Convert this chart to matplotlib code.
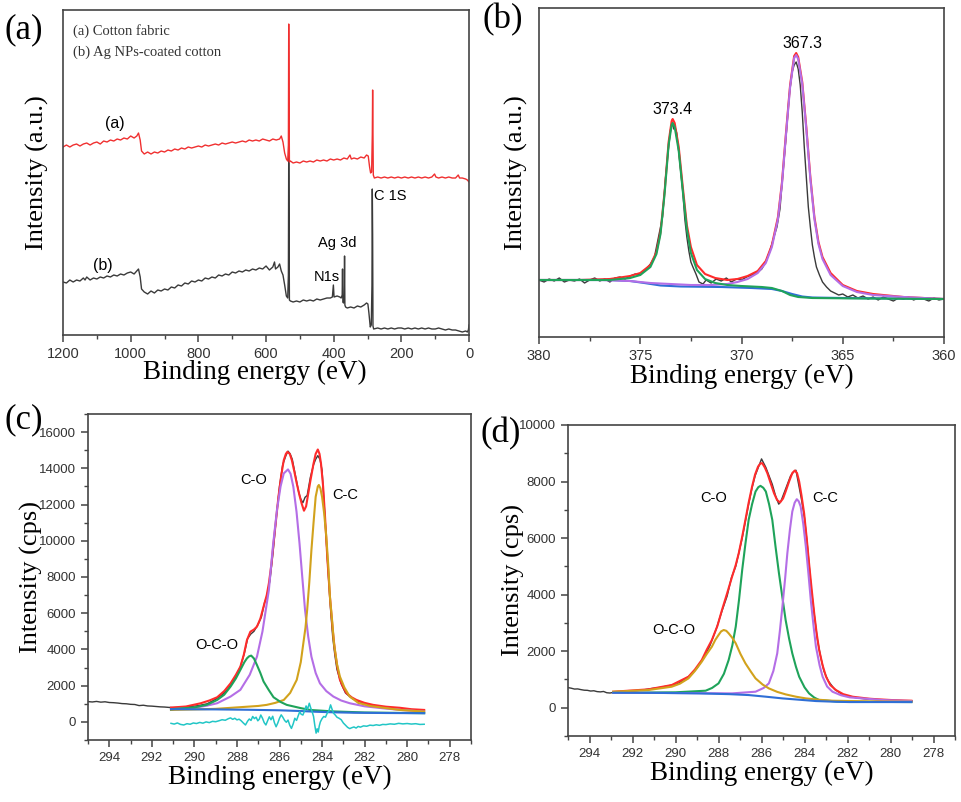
import numpy as np
import matplotlib
matplotlib.use("Agg")
import matplotlib.pyplot as plt
from matplotlib.ticker import MultipleLocator

plt.rcParams['font.family'] = ['Liberation Sans', 'DejaVu Sans']
SERIF = ['Liberation Serif', 'DejaVu Serif']

# ---------------- (a) survey spectra (a.u.) ----------------
survey_cotton = [
    (1200, 188), (1190, 190), (1180, 188), (1170, 190), (1160, 191), (1150, 189), (1140, 191), (1130, 192),
    (1120, 190), (1110, 192), (1100, 193), (1090, 191), (1080, 194), (1070, 193), (1060, 195), (1050, 194),
    (1040, 196), (1030, 195), (1020, 197), (1010, 196), (1000, 199), (990, 197), (982, 199), (977, 202),
    (972, 195), (968, 184), (960, 181), (950, 183), (940, 181), (930, 183), (920, 182), (910, 184), (900, 183),
    (890, 185), (880, 184), (870, 186), (860, 185), (850, 187), (840, 186), (830, 188), (820, 187), (810, 188),
    (800, 189), (790, 188), (780, 190), (770, 189), (760, 190), (750, 191), (740, 190), (730, 192), (720, 191),
    (710, 192), (700, 193), (690, 192), (680, 193), (670, 194), (660, 193), (650, 195), (640, 194), (630, 195),
    (620, 194), (610, 196), (600, 195), (590, 194), (580, 196), (570, 195), (560, 196), (555, 199), (550, 193),
    (545, 182), (540, 176), (536, 174), (534, 190), (533, 311), (532, 240), (531, 173), (528, 174), (520, 172),
    (510, 173), (500, 172), (490, 174), (480, 173), (470, 174), (460, 173), (450, 175), (440, 174), (430, 175),
    (420, 174), (410, 176), (400, 175), (390, 176), (380, 175), (370, 177), (360, 176), (352, 180), (348, 176),
    (340, 177), (330, 176), (320, 178), (310, 177), (303, 180), (298, 179), (294, 168), (291, 162), (288, 163),
    (286, 200), (285, 245), (284, 200), (283, 160), (280, 157), (270, 158), (260, 157), (250, 158), (240, 157),
    (230, 158), (220, 157), (210, 158), (200, 157), (190, 158), (180, 157), (170, 158), (160, 157), (150, 158),
    (140, 157), (130, 158), (120, 157), (110, 158), (102, 161), (98, 158), (90, 157), (80, 158), (70, 157),
    (60, 158), (50, 157), (40, 157), (32, 160), (28, 157), (20, 157), (10, 156), (5, 155), (0, 153),
]
survey_ag = [
    (1200, 53), (1190, 52), (1180, 55), (1170, 53), (1160, 55), (1150, 54), (1140, 57), (1135, 55), (1130, 58),
    (1120, 55), (1110, 57), (1100, 56), (1090, 58), (1080, 57), (1070, 59), (1060, 58), (1050, 60), (1040, 59),
    (1030, 61), (1020, 60), (1010, 62), (1000, 63), (990, 61), (982, 64), (977, 66), (972, 58), (968, 46),
    (960, 43), (950, 41), (940, 44), (930, 42), (920, 45), (910, 44), (900, 46), (890, 45), (880, 48), (870, 47),
    (860, 50), (850, 49), (840, 52), (830, 51), (820, 54), (810, 53), (800, 55), (790, 54), (780, 57), (770, 56),
    (760, 58), (750, 57), (740, 60), (730, 59), (720, 61), (710, 60), (700, 63), (690, 62), (680, 64), (670, 63),
    (660, 65), (650, 64), (640, 66), (630, 65), (620, 67), (610, 66), (600, 69), (595, 67), (590, 65), (580, 68),
    (575, 73), (572, 66), (565, 68), (560, 71), (555, 64), (550, 60), (545, 50), (540, 39), (536, 37), (534, 60),
    (533, 180), (532, 120), (531, 35), (528, 34), (520, 33), (510, 34), (500, 33), (490, 35), (480, 34), (470, 35),
    (460, 34), (450, 36), (440, 35), (430, 36), (420, 37), (410, 37), (404, 38), (401, 50), (399, 38), (390, 39),
    (382, 38), (378, 37), (375, 40), (374, 66), (373, 33), (371, 32), (369, 40), (368, 79), (367, 30), (365, 28),
    (360, 27), (350, 28), (340, 27), (330, 29), (320, 28), (310, 30), (303, 32), (299, 31), (296, 22), (292, 8),
    (289, 10), (287, 50), (286, 146), (285, 100), (284, 9), (282, 6), (270, 7), (260, 6), (250, 7), (240, 6),
    (230, 7), (220, 6), (210, 7), (200, 7), (190, 6), (180, 7), (170, 6), (160, 7), (150, 6), (140, 7), (130, 6),
    (120, 7), (110, 6), (100, 6), (90, 7), (80, 6), (70, 5), (60, 6), (50, 5), (40, 5), (30, 4), (20, 3),
    (10, 4), (5, 3), (2, 5), (0, 10),
]

# ---------------- (b) Ag 3d ----------------
ag_raw = [
    (380.0, 57), (379.75, 55), (379.5, 58), (379.25, 56), (379.0, 59), (378.75, 55), (378.5, 57), (378.25, 56),
    (378.0, 58), (377.75, 54), (377.5, 57), (377.25, 59), (377.0, 56), (376.75, 58), (376.5, 55), (376.25, 59),
    (376.0, 60), (375.75, 58), (375.5, 61), (375.25, 63), (375.0, 62), (374.75, 67), (374.5, 73), (374.3, 80),
    (374.1, 100), (373.9, 120), (373.75, 160), (373.6, 190), (373.5, 208), (373.4, 214), (373.35, 208),
    (373.3, 211), (373.2, 204), (373.1, 185), (373.0, 165), (372.9, 145), (372.8, 118), (372.7, 100),
    (372.6, 86), (372.5, 75), (372.4, 70), (372.25, 63), (372.1, 55), (371.9, 53), (371.75, 57), (371.5, 54),
    (371.25, 58), (371.0, 56), (370.75, 59), (370.5, 55), (370.25, 58), (370.0, 57), (369.75, 60), (369.5, 62),
    (369.25, 64), (369.0, 68), (368.8, 75), (368.6, 86), (368.4, 100), (368.25, 110), (368.1, 128),
    (367.95, 165), (367.8, 200), (367.65, 240), (367.5, 265), (367.4, 272), (367.3, 275), (367.2, 268),
    (367.1, 252), (367.0, 225), (366.9, 190), (366.8, 160), (366.7, 130), (366.6, 110), (366.5, 92),
    (366.4, 80), (366.3, 70), (366.15, 62), (366.0, 55), (365.8, 50), (365.6, 46), (365.4, 44), (365.2, 42),
    (365.0, 43), (364.75, 40), (364.5, 42), (364.25, 39), (364.0, 41), (363.75, 38), (363.5, 40), (363.25, 37),
    (363.0, 40), (362.75, 38), (362.5, 36), (362.25, 39), (362.0, 38), (361.75, 40), (361.5, 37), (361.25, 39),
    (361.0, 38), (360.75, 36), (360.5, 39), (360.25, 37), (360.0, 38),
]
ag_fit = [
    (380.0, 57), (378.0, 57), (376.5, 58), (375.5, 61), (375.0, 64), (374.5, 72), (374.2, 85), (374.0, 105),
    (373.8, 145), (373.6, 195), (373.45, 216), (373.4, 218), (373.3, 214), (373.1, 190), (372.9, 150),
    (372.7, 112), (372.5, 90), (372.2, 72), (371.8, 63), (371.3, 59), (370.7, 57), (370.2, 58), (369.7, 61),
    (369.2, 66), (368.8, 76), (368.5, 92), (368.2, 120), (368.0, 155), (367.8, 205), (367.6, 252),
    (367.4, 281), (367.3, 284), (367.2, 280), (367.0, 255), (366.8, 210), (366.6, 160), (366.4, 120),
    (366.2, 95), (366.0, 80), (365.6, 64), (365.0, 52), (364.3, 46), (363.5, 43), (362.0, 40), (360.0, 38),
]
ag_3d32 = [
    (380.0, 57), (378.0, 57), (376.5, 57), (375.5, 59), (375.0, 62), (374.5, 70), (374.2, 83), (374.0, 103),
    (373.8, 143), (373.6, 192), (373.45, 212), (373.4, 214), (373.3, 210), (373.1, 186), (372.9, 146),
    (372.7, 108), (372.5, 84), (372.2, 67), (371.8, 58), (371.3, 54), (370.7, 52), (370.0, 51), (369.0, 50),
    (368.5, 49), (368.0, 46), (367.6, 42), (367.2, 40), (366.5, 39), (364.0, 38.5), (360.0, 38),
]
ag_3d52 = [
    (380.0, 57), (377.0, 57), (375.5, 56), (374.5, 54), (373.5, 53), (372.5, 52), (371.5, 52), (370.7, 53),
    (370.2, 55), (369.7, 58), (369.2, 64), (368.8, 74), (368.5, 90), (368.2, 118), (368.0, 153), (367.8, 203),
    (367.6, 250), (367.4, 279), (367.3, 282), (367.2, 278), (367.0, 253), (366.8, 208), (366.6, 158),
    (366.4, 118), (366.2, 93), (366.0, 78), (365.6, 62), (365.0, 51), (364.3, 45), (363.5, 42), (362.0, 40),
    (360.0, 38),
]
ag_bg = [
    (380.0, 57), (376.5, 57), (375.5, 56), (374.8, 54), (374.0, 51.5), (373.0, 50.5), (371.0, 50), (369.5, 49),
    (368.5, 48), (368.0, 46), (367.5, 43), (367.0, 40.5), (366.5, 39.5), (365.0, 39), (360.0, 38),
]

# ---------------- (c) C 1s, cotton (cps) ----------------
c_raw = [
    (295.0, 1120), (294.8, 1100), (294.6, 1130), (294.4, 1090), (294.2, 1110), (294.0, 1070), (293.8, 1060),
    (293.6, 1040), (293.4, 1010), (293.2, 1000), (293.0, 970), (292.8, 960), (292.6, 900), (292.4, 920),
    (292.2, 880), (292.0, 870), (291.8, 850), (291.6, 830), (291.4, 820), (291.2, 800), (291.0, 790),
    (290.6, 800), (290.2, 840), (289.8, 900), (289.4, 1000), (289.0, 1250), (288.7, 1500), (288.4, 1850),
    (288.1, 2400), (287.85, 3000), (287.65, 3800), (287.5, 4600), (287.35, 4850), (287.2, 5000), (287.0, 5400),
    (286.85, 5800), (286.7, 6600), (286.6, 6900), (286.45, 7800), (286.3, 9400), (286.15, 11300),
    (286.0, 13000), (285.85, 14200), (285.7, 14700), (285.6, 14950), (285.5, 14800), (285.4, 14500),
    (285.25, 13600), (285.1, 12700), (285.0, 12300), (284.9, 12100), (284.8, 12400), (284.7, 12500),
    (284.55, 13500), (284.4, 14200), (284.3, 14500), (284.2, 14700), (284.1, 14500), (284.0, 13900),
    (283.9, 12000), (283.8, 10000), (283.7, 8000), (283.6, 6200), (283.5, 4700), (283.4, 3700), (283.3, 2900),
    (283.1, 2100), (282.9, 1600), (282.6, 1300), (282.2, 1100), (281.8, 950), (281.2, 800), (280.5, 700),
    (279.8, 640), (279.2, 600),
]
c_fit = [
    (291.1, 790), (290.4, 850), (289.7, 1030), (289.3, 1180), (288.93, 1360), (288.6, 1700), (288.3, 2130),
    (288.05, 2600), (287.84, 3050), (287.68, 3700), (287.53, 4520), (287.37, 4980), (287.2, 5100),
    (287.06, 5260), (286.9, 5700), (286.75, 6360), (286.6, 7000), (286.5, 7650), (286.38, 8700),
    (286.28, 9860), (286.15, 11300), (286.05, 12430), (285.92, 13600), (285.8, 14450), (285.7, 14800),
    (285.63, 14910), (285.52, 14800), (285.42, 14450), (285.3, 13800), (285.19, 13170), (285.06, 12500),
    (284.96, 12060), (284.85, 11660), (284.75, 11900), (284.65, 12600), (284.55, 13300), (284.4, 14270),
    (284.3, 14800), (284.2, 15040), (284.12, 14800), (284.05, 14270), (283.95, 13000), (283.86, 11330),
    (283.75, 9000), (283.63, 6910), (283.5, 5100), (283.4, 3970), (283.28, 3000), (283.16, 2320),
    (283.0, 1900), (282.85, 1580), (282.6, 1350), (282.38, 1210), (282.0, 1050), (281.6, 940), (281.0, 840),
    (280.35, 780), (279.8, 700), (279.2, 660),
]
c_co = [
    (291.1, 700), (290.0, 780), (289.4, 900), (288.93, 1030), (288.3, 1400), (287.84, 1770), (287.4, 2600),
    (287.06, 3600), (286.8, 5000), (286.5, 7280), (286.3, 9800), (286.12, 11700), (285.95, 13000),
    (285.8, 13720), (285.6, 13940), (285.48, 13700), (285.35, 12980), (285.2, 11600), (285.06, 9860),
    (284.93, 8000), (284.8, 6180), (284.65, 4700), (284.5, 3600), (284.3, 2700), (284.1, 2130), (283.8, 1700),
    (283.47, 1400), (283.1, 1180), (282.7, 1030), (282.0, 860), (281.13, 750), (280.2, 650), (279.2, 570),
]
c_cc = [
    (291.1, 660), (289.0, 720), (288.0, 800), (287.0, 880), (286.6, 940), (286.2, 1050), (285.8, 1210),
    (285.5, 1600), (285.19, 2320), (285.0, 3300), (284.88, 4340), (284.78, 5200), (284.7, 6180), (284.6, 7700),
    (284.5, 9490), (284.4, 11000), (284.3, 12430), (284.2, 13000), (284.15, 13080), (284.08, 12900),
    (284.0, 12430), (283.9, 11500), (283.8, 10220), (283.7, 8500), (283.63, 6910), (283.52, 5500),
    (283.44, 4340), (283.3, 3200), (283.16, 2500), (282.95, 1900), (282.7, 1400), (282.3, 1050),
    (281.75, 880), (280.35, 660), (279.2, 570),
]
c_oco = [
    (291.1, 700), (290.0, 800), (289.4, 950), (288.93, 1210), (288.6, 1500), (288.3, 1950), (288.05, 2400),
    (287.84, 2870), (287.65, 3300), (287.53, 3510), (287.43, 3620), (287.33, 3660), (287.2, 3500),
    (287.06, 3140), (286.9, 2700), (286.75, 2230), (286.5, 1750), (286.28, 1360), (285.95, 1100),
    (285.66, 940), (285.0, 760), (284.57, 660), (283.5, 580), (282.0, 520), (279.2, 480),
]
c_bg = [
    (291.1, 700), (289.0, 690), (287.5, 670), (286.0, 640), (285.0, 600), (284.3, 560), (283.5, 530),
    (282.5, 505), (281.0, 490), (279.2, 480),
]
c_resid = [
    (291.1, -80), (290.95, -120), (290.8, -60), (290.65, -140), (290.5, -170), (290.35, -100), (290.2, -130),
    (290.05, -60), (289.9, -90), (289.75, -30), (289.6, -70), (289.45, 0), (289.3, -40), (289.15, 30),
    (289.0, 10), (288.85, 60), (288.7, 120), (288.55, 90), (288.4, 180), (288.3, 220), (288.2, 140),
    (288.1, 200), (288.0, 110), (287.9, 150), (287.8, 60), (287.7, -60), (287.6, -170), (287.5, 40),
    (287.42, 160), (287.34, 80), (287.26, 300), (287.18, 180), (287.1, 260), (287.02, 60), (286.95, 150),
    (286.88, 380), (286.8, 200), (286.72, -40), (286.64, -170), (286.56, 60), (286.48, 280), (286.4, 120),
    (286.32, 310), (286.24, -40), (286.16, -270), (286.08, -60), (286.0, 200), (285.92, 390), (285.84, 250),
    (285.76, 80), (285.68, -20), (285.6, 100), (285.52, -180), (285.44, -360), (285.36, -120), (285.28, 200),
    (285.2, 80), (285.12, 340), (285.05, 560), (284.98, 420), (284.9, 380), (284.82, 620), (284.75, 880),
    (284.68, 700), (284.6, 1030), (284.53, 760), (284.46, 540), (284.4, 300), (284.34, -200), (284.28, -620),
    (284.23, -380), (284.18, -560), (284.13, -220), (284.08, 0), (284.0, 180), (283.92, 300), (283.84, 260),
    (283.76, 480), (283.68, 600), (283.6, 940), (283.53, 700), (283.46, 480), (283.38, 380), (283.3, 260),
    (283.2, 200), (283.1, 120), (283.0, -60), (282.9, -180), (282.8, -300), (282.7, -370), (282.6, -320),
    (282.5, -280), (282.4, -340), (282.3, -250), (282.2, -290), (282.05, -220), (281.9, -240), (281.75, -180),
    (281.6, -200), (281.45, -160), (281.3, -190), (281.15, -140), (281.0, -150), (280.8, -110), (280.6, -130),
    (280.4, -80), (280.2, -110), (280.0, -90), (279.8, -120), (279.6, -100), (279.4, -140), (279.2, -130),
]

# ---------------- (d) C 1s, Ag NPs-coated (cps) ----------------
d_raw = [
    (295.0, 712), (294.85, 690), (294.7, 660), (294.55, 665), (294.4, 640), (294.25, 620), (294.1, 615),
    (293.95, 590), (293.8, 600), (293.65, 570), (293.5, 560), (293.35, 575), (293.2, 530), (293.05, 520),
    (292.9, 540), (292.7, 550), (292.3, 580), (291.9, 600), (291.5, 630), (291.1, 680), (290.7, 720),
    (290.3, 780), (289.9, 850), (289.6, 1000), (289.3, 1150), (289.0, 1400), (288.7, 1750), (288.4, 2200),
    (288.1, 2800), (287.85, 3400), (287.6, 3950), (287.4, 4600), (287.2, 5000), (287.05, 5500), (286.9, 6000),
    (286.75, 6600), (286.6, 7200), (286.45, 7750), (286.3, 8200), (286.15, 8500), (286.0, 8800), (285.9, 8650),
    (285.8, 8500), (285.65, 8200), (285.5, 7900), (285.35, 7500), (285.2, 7200), (285.1, 7300), (284.95, 7600),
    (284.8, 7900), (284.65, 8200), (284.5, 8350), (284.4, 8400), (284.3, 8000), (284.15, 7400), (284.0, 6700),
    (283.85, 5600), (283.7, 4300), (283.55, 3300), (283.4, 2400), (283.25, 1800), (283.1, 1300), (282.9, 950),
    (282.6, 650), (282.2, 450), (281.8, 380), (281.4, 330), (281.0, 300), (280.5, 280), (280.0, 260),
    (279.5, 250), (279.0, 240),
]
d_fit = [
    (292.9, 566), (291.27, 649), (290.18, 802), (289.4, 1097), (289.1, 1350), (288.78, 1687), (288.55, 2050),
    (288.31, 2395), (288.05, 2900), (287.84, 3457), (287.6, 4050), (287.37, 4637), (287.2, 5050),
    (287.06, 5463), (286.9, 6050), (286.75, 6643), (286.6, 7250), (286.44, 7823), (286.3, 8250),
    (286.16, 8531), (286.05, 8640), (285.97, 8650), (285.85, 8500), (285.73, 8295), (285.58, 7950),
    (285.42, 7587), (285.28, 7350), (285.14, 7260), (285.0, 7400), (284.88, 7646), (284.72, 8000),
    (284.57, 8300), (284.45, 8390), (284.35, 8300), (284.25, 8000), (284.14, 7500), (284.02, 6879),
    (283.9, 6000), (283.79, 5109), (283.67, 4200), (283.55, 3339), (283.44, 2650), (283.32, 2041),
    (283.16, 1500), (283.0, 1097), (282.8, 800), (282.54, 625), (282.2, 480), (281.76, 389), (281.0, 320),
    (280.51, 295), (279.8, 265), (279.03, 248),
]
d_co = [
    (292.9, 530), (290.0, 545), (288.6, 602), (288.3, 700), (288.0, 861), (287.75, 1200), (287.53, 1687),
    (287.36, 2200), (287.2, 2867), (287.05, 3800), (286.9, 4873), (286.75, 5800), (286.6, 6643), (286.44, 7200),
    (286.28, 7646), (286.15, 7800), (286.05, 7847), (285.92, 7780), (285.8, 7646), (285.65, 7200),
    (285.5, 6643), (285.35, 5700), (285.19, 4755), (285.03, 3900), (284.88, 3103), (284.72, 2450),
    (284.57, 1923), (284.4, 1450), (284.25, 1097), (284.0, 720), (283.79, 507), (283.55, 360), (283.32, 271),
    (282.5, 220), (281.9, 212), (279.03, 200),
]
d_cc = [
    (292.9, 531), (289.0, 515), (287.37, 507), (286.28, 566), (285.9, 700), (285.66, 861), (285.45, 1300),
    (285.27, 1923), (285.15, 2700), (285.03, 3575), (284.9, 4600), (284.8, 5463), (284.68, 6300),
    (284.57, 6938), (284.46, 7250), (284.36, 7375), (284.27, 7300), (284.18, 7115), (284.06, 6500),
    (283.94, 5700), (283.82, 4750), (283.71, 3811), (283.59, 2950), (283.47, 2159), (283.3, 1500),
    (283.16, 1097), (282.95, 750), (282.7, 566), (282.3, 440), (281.9, 366), (280.35, 271), (279.03, 236),
]
d_oco = [
    (292.9, 566), (291.27, 625), (290.18, 743), (289.8, 850), (289.4, 1038), (289.1, 1300), (288.78, 1628),
    (288.55, 1900), (288.31, 2159), (288.15, 2400), (288.0, 2572), (287.88, 2700), (287.76, 2749),
    (287.64, 2720), (287.53, 2631), (287.37, 2480), (287.2, 2277), (286.98, 1900), (286.75, 1569),
    (286.5, 1280), (286.28, 1038), (285.95, 820), (285.66, 684), (285.27, 560), (284.88, 472), (284.4, 390),
    (283.94, 330), (283.3, 280), (282.7, 248), (281.0, 225), (279.03, 212),
]
d_bg = [
    (292.9, 531), (290.5, 522), (288.93, 507), (287.5, 480), (286.6, 448), (285.8, 390), (285.03, 330),
    (284.2, 280), (283.47, 236), (282.5, 210), (281.9, 200), (279.03, 200),
]

RED = '#ff2b2b'
GREEN = '#1fa35a'
PURPLE = '#b46ee6'
GOLD = '#d2a21c'
BLUE = '#2f6fd6'
CYAN = '#22c6c6'
RAW = '#3a3a3a'
SPINE = '#444444'


def xy(points):
    arr = np.array(points, dtype=float)
    return arr[:, 0], arr[:, 1]


def style_axes(ax, labelsize):
    for s in ax.spines.values():
        s.set_color(SPINE)
        s.set_linewidth(1.2)
    ax.tick_params(which='major', direction='out', length=5, width=1.1, color=SPINE,
                   labelsize=labelsize, labelcolor='#333333')
    ax.tick_params(which='minor', direction='out', length=3, width=1.0, color=SPINE)


fig = plt.figure(figsize=(9.61, 8.02), dpi=100)
fig.patch.set_facecolor('white')

ax_a = fig.add_axes([0.0656, 0.5823, 0.4225, 0.4052])
ax_b = fig.add_axes([0.5609, 0.5798, 0.4214, 0.4102])
ax_c = fig.add_axes([0.0916, 0.0773, 0.3985, 0.4065])
ax_d = fig.add_axes([0.5911, 0.0823, 0.4027, 0.3878])

XL = 19.5
YL = 19

# (a)
x, y = xy(survey_ag)
ax_a.plot(x, y, color=RAW, lw=1.0)
x, y = xy(survey_cotton)
ax_a.plot(x, y, color='#f03030', lw=1.0)
ax_a.set_xlim(1200, 0)
ax_a.set_ylim(0, 325)
ax_a.set_yticks([])
ax_a.xaxis.set_major_locator(MultipleLocator(200))
ax_a.xaxis.set_minor_locator(MultipleLocator(100))
ax_a.text(1046, 212, '(a)', fontsize=11.5, ha='center', va='center')
ax_a.text(1082, 70, '(b)', fontsize=11.5, ha='center', va='center')
ax_a.text(280, 139, 'C 1S', fontsize=10.5, ha='left', va='center')
ax_a.text(390, 92, 'Ag 3d', fontsize=10.5, ha='center', va='center')
ax_a.text(420, 58, 'N1s', fontsize=10.5, ha='center', va='center')
ax_a.text(0.025, 0.935, '(a) Cotton fabric', transform=ax_a.transAxes, family=SERIF,
          fontsize=10.5, color='#333333', va='center')
ax_a.text(0.025, 0.871, '(b) Ag NPs-coated cotton', transform=ax_a.transAxes, family=SERIF,
          fontsize=10.5, color='#333333', va='center')
ax_a.set_ylabel('Intensity (a.u.)', family=SERIF, fontsize=YL, labelpad=10)
ax_a.set_xlabel('Binding energy (eV)', family=SERIF, fontsize=XL)
ax_a.xaxis.set_label_coords(0.473, -0.078)

# (b)
x, y = xy(ag_raw)
ax_b.plot(x, y, color=RAW, lw=1.0)
x, y = xy(ag_fit)
ax_b.plot(x, y, color=RED, lw=1.5)
x, y = xy(ag_bg)
ax_b.plot(x, y, color=BLUE, lw=1.5)
x, y = xy(ag_3d52)
ax_b.plot(x, y, color=PURPLE, lw=1.5)
x, y = xy(ag_3d32)
ax_b.plot(x, y, color=GREEN, lw=1.5)
ax_b.set_xlim(380, 360)
ax_b.set_ylim(0, 329)
ax_b.set_yticks([])
ax_b.xaxis.set_major_locator(MultipleLocator(5))
ax_b.xaxis.set_minor_locator(MultipleLocator(2.5))
ax_b.text(373.4, 228, '373.4', fontsize=11.5, ha='center', va='center')
ax_b.text(367.0, 294, '367.3', fontsize=11.5, ha='center', va='center')
ax_b.set_ylabel('Intensity (a.u.)', family=SERIF, fontsize=YL, labelpad=8)
ax_b.set_xlabel('Binding energy (eV)', family=SERIF, fontsize=XL, labelpad=1)

# (c)
x, y = xy(c_raw)
ax_c.plot(x, y, color=RAW, lw=1.0)
x, y = xy(c_fit)
ax_c.plot(x, y, color=RED, lw=1.5)
x, y = xy(c_co)
ax_c.plot(x, y, color=PURPLE, lw=1.5)
x, y = xy(c_cc)
ax_c.plot(x, y, color=GOLD, lw=1.5)
x, y = xy(c_oco)
ax_c.plot(x, y, color=GREEN, lw=1.5)
x, y = xy(c_bg)
ax_c.plot(x, y, color=BLUE, lw=1.5)
x, y = xy(c_resid)
ax_c.plot(x, y, color=CYAN, lw=1.1)
ax_c.set_xlim(295, 277)
ax_c.set_ylim(-1000, 17000)
ax_c.xaxis.set_major_locator(MultipleLocator(2))
ax_c.xaxis.set_minor_locator(MultipleLocator(1))
ax_c.set_yticks(np.arange(0, 16001, 2000))
ax_c.yaxis.set_minor_locator(MultipleLocator(1000))
ax_c.text(287.2, 13350, 'C-O', fontsize=10.5, ha='center', va='center')
ax_c.text(282.9, 12520, 'C-C', fontsize=10.5, ha='center', va='center')
ax_c.text(288.95, 4250, 'O-C-O', fontsize=10.5, ha='center', va='center')
ax_c.set_ylabel('Intensity (cps)', family=SERIF, fontsize=YL, labelpad=-2.5)
ax_c.set_xlabel('Binding energy (eV)', family=SERIF, fontsize=XL, labelpad=1)

# (d)
x, y = xy(d_raw)
ax_d.plot(x, y, color=RAW, lw=1.0)
x, y = xy(d_fit)
ax_d.plot(x, y, color=RED, lw=1.5)
x, y = xy(d_co)
ax_d.plot(x, y, color=GREEN, lw=1.5)
x, y = xy(d_cc)
ax_d.plot(x, y, color=PURPLE, lw=1.5)
x, y = xy(d_oco)
ax_d.plot(x, y, color=GOLD, lw=1.5)
x, y = xy(d_bg)
ax_d.plot(x, y, color=BLUE, lw=1.5)
ax_d.set_xlim(295, 277)
ax_d.set_ylim(-1000, 10000)
ax_d.xaxis.set_major_locator(MultipleLocator(2))
ax_d.xaxis.set_minor_locator(MultipleLocator(1))
ax_d.set_yticks(np.arange(0, 10001, 2000))
ax_d.yaxis.set_minor_locator(MultipleLocator(1000))
ax_d.text(288.25, 7430, 'C-O', fontsize=10.5, ha='center', va='center')
ax_d.text(283.05, 7430, 'C-C', fontsize=10.5, ha='center', va='center')
ax_d.text(290.1, 2740, 'O-C-O', fontsize=10.5, ha='center', va='center')
ax_d.set_ylabel('Intensity (cps)', family=SERIF, fontsize=YL, labelpad=-4)
ax_d.set_xlabel('Binding energy (eV)', family=SERIF, fontsize=XL, labelpad=1)

style_axes(ax_a, 10.5)
style_axes(ax_b, 10.5)
style_axes(ax_c, 9.5)
style_axes(ax_d, 9.5)

# panel letters
fig.text(5 / 961, 1 - 30 / 802, '(a)', family=SERIF, fontsize=25, va='center', ha='left')
fig.text(483 / 961, 1 - 20 / 802, '(b)', family=SERIF, fontsize=25, va='center', ha='left')
fig.text(4 / 961, 1 - 420 / 802, '(c)', family=SERIF, fontsize=25, va='center', ha='left')
fig.text(481 / 961, 1 - 434 / 802, '(d)', family=SERIF, fontsize=25, va='center', ha='left')

fig.savefig('out.png', dpi=100, facecolor='white')
